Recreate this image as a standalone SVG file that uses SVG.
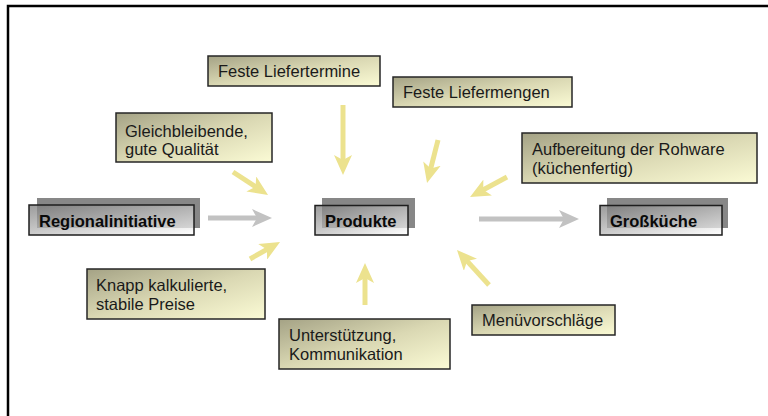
<svg xmlns="http://www.w3.org/2000/svg" width="768" height="416" viewBox="0 0 768 416">
  <defs>
    <linearGradient id="noteFill" x1="0" y1="0" x2="1" y2="1">
      <stop offset="0" stop-color="#a4a285"/>
      <stop offset="0.5" stop-color="#dad8b3"/>
      <stop offset="1" stop-color="#fbfbd5"/>
    </linearGradient>
    <linearGradient id="mainFill" x1="0" y1="0" x2="1" y2="1">
      <stop offset="0" stop-color="#7a7a7a" stop-opacity="0.75"/>
      <stop offset="1" stop-color="#ffffff" stop-opacity="0.75"/>
    </linearGradient>
    <marker id="headYellow" markerUnits="userSpaceOnUse" markerWidth="20" markerHeight="18" viewBox="0 0 20 18" refX="8" refY="9" orient="auto">
      <path d="M0,0 L20,9 L0,18 L5,9 z" fill="#ece28e"/>
    </marker>
    <marker id="headGray" markerUnits="userSpaceOnUse" markerWidth="20" markerHeight="18" viewBox="0 0 20 18" refX="8" refY="9" orient="auto">
      <path d="M0,0 L20,9 L0,18 L5,9 z" fill="#c2c2c2"/>
    </marker>
  </defs>
  <style>
    .note { fill: url(#noteFill); stroke: #262626; stroke-width: 1.5; }
    .shadow { fill: #878787; }
    .main { fill: url(#mainFill); stroke: #1e1e1e; stroke-width: 1.5; }
    .txt { font-family: "Liberation Sans", Arial, sans-serif; font-size: 16.5px; fill: #1a1a1a; }
    .bold { font-family: "Liberation Sans", Arial, sans-serif; font-size: 16.5px; font-weight: bold; fill: #0a0a0a; }
    .yel { stroke: #ece28e; stroke-width: 5; fill: none; marker-end: url(#headYellow); }
    .gry { stroke: #c2c2c2; stroke-width: 5; fill: none; marker-end: url(#headGray); }
  </style>

  <rect width="768" height="416" fill="#ffffff"/>
  <!-- outer frame (top and left edges) -->
  <path d="M8,420 L8,6 L772,6" fill="none" stroke="#000000" stroke-width="2.5"/>

  <!-- connectors -->
  <g id="connectors">
    <path class="gry" d="M208,218 L260,218"/>
    <path class="gry" d="M479,219 L567,219"/>
    <path class="yel" d="M343,105 L343,163"/>
    <path class="yel" d="M438,140 L430,171.4"/>
    <path class="yel" d="M507,177 L480.6,191.3"/>
    <path class="yel" d="M233,172 L258,188.4"/>
    <path class="yel" d="M250,259 L269.6,247.9"/>
    <path class="yel" d="M365,305 L365,275"/>
    <path class="yel" d="M489,285 L465.1,258.9"/>
  </g>

  <!-- main flow nodes -->
  <g id="regionalinitiative">
    <rect class="shadow" x="37" y="198" width="163" height="30"/>
    <rect class="main" x="29" y="205" width="165" height="30"/>
    <text class="bold" x="39" y="226.5">Regionalinitiative</text>
  </g>
  <g id="produkte">
    <rect class="shadow" x="322" y="198" width="93" height="30"/>
    <rect class="main" x="315" y="205.5" width="93" height="29.5"/>
    <text class="bold" x="325" y="226.5">Produkte</text>
  </g>
  <g id="grosskueche">
    <rect class="shadow" x="607" y="198" width="121" height="30"/>
    <rect class="main" x="600" y="205.5" width="122" height="29.5"/>
    <text class="bold" x="610" y="226.5">Großküche</text>
  </g>

  <!-- requirement notes -->
  <g id="feste-liefertermine">
    <rect class="note" x="208" y="56" width="172" height="30"/>
    <text class="txt" x="218" y="76.5">Feste Liefertermine</text>
  </g>
  <g id="feste-liefermengen">
    <rect class="note" x="393" y="77" width="179" height="30"/>
    <text class="txt" x="403" y="97.5">Feste Liefermengen</text>
  </g>
  <g id="gleichbleibende-qualitaet">
    <rect class="note" x="116" y="113" width="156" height="49"/>
    <text class="txt" x="125" y="136.5">Gleichbleibende,</text>
    <text class="txt" x="125" y="155">gute Qualität</text>
  </g>
  <g id="aufbereitung">
    <rect class="note" x="522" y="133" width="235" height="50"/>
    <text class="txt" x="532" y="155">Aufbereitung der Rohware</text>
    <text class="txt" x="532" y="174">(küchenfertig)</text>
  </g>
  <g id="preise">
    <rect class="note" x="87" y="269" width="178" height="50"/>
    <text class="txt" x="96" y="291">Knapp kalkulierte,</text>
    <text class="txt" x="96" y="310">stabile Preise</text>
  </g>
  <g id="unterstuetzung">
    <rect class="note" x="279" y="319" width="171" height="50"/>
    <text class="txt" x="289" y="341">Unterstützung,</text>
    <text class="txt" x="289" y="360">Kommunikation</text>
  </g>
  <g id="menuevorschlaege">
    <rect class="note" x="472" y="305" width="143" height="30"/>
    <text class="txt" x="482" y="326">Menüvorschläge</text>
  </g>
</svg>
